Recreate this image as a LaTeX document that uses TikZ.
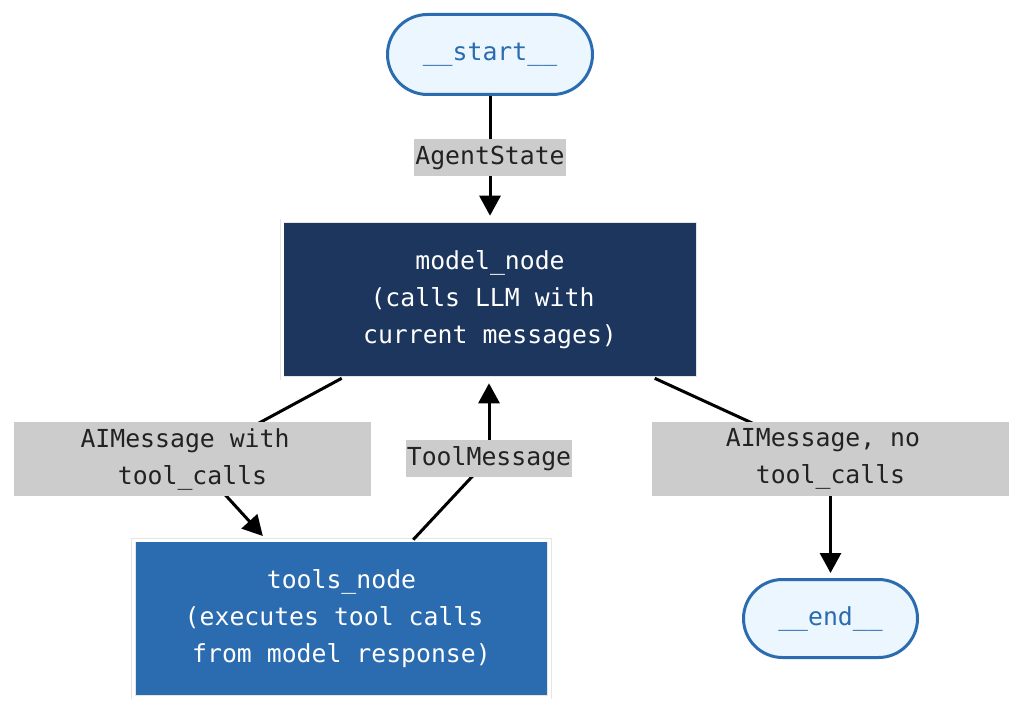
\documentclass[tikz,border=0pt]{standalone}
\usepackage{fontspec}
\setmonofont{DejaVu Sans Mono}
\usetikzlibrary{shapes.misc,arrows.meta,calc}
\definecolor{navy}{HTML}{1C365E}
\definecolor{midblue}{HTML}{2B6BAF}
\definecolor{pillfill}{HTML}{EBF6FE}
\definecolor{lblgray}{HTML}{CCCCCC}
\definecolor{txtdark}{HTML}{222222}
\begin{document}
\begin{tikzpicture}[x=1pt,y=-1pt,
  every node/.style={font=\ttfamily\fontsize{24.8}{37}\selectfont},
  pill/.style={rounded rectangle, draw=midblue, line width=3pt, fill=pillfill, text=midblue, inner sep=0pt},
  box/.style={rectangle, draw=black!10, double=white, double distance=3pt, line width=0.6pt, text=white, align=center, minimum width=416pt, minimum height=157pt, inner sep=0pt},
  lbl/.style={fill=lblgray, text=txtdark, inner xsep=1pt, inner ysep=0pt, align=center, minimum height=37pt},
  lbltwo/.style={lbl, minimum width=357pt, minimum height=74pt},
  edge/.style={line width=3pt, draw=black},
  arr/.style={edge, -{Triangle[length=20pt,width=21pt]}, shorten >=5pt}]
\useasboundingbox (0,0) rectangle (1024,711);
% main nodes
\node[pill, minimum width=205pt, minimum height=80pt] (start) at (490,54.5) {\_\_start\_\_};
\node[box, fill=navy] (model) at (490,299.5) {model\_node\\(calls LLM with\hphantom{x}\\current messages)};
\node[box, fill=midblue] (tools) at (341.5,618.5) {tools\_node\\(executes tool calls\hphantom{x}\\from model response)};
\node[pill, minimum width=174pt, minimum height=78pt] (end) at (830.5,618.5) {\_\_end\_\_};
% label positions
\coordinate (c0) at (490,158);
\coordinate (c1) at (192.5,459);
\coordinate (c2) at (489,458.5);
\coordinate (c3) at (830.5,459);
% edges
\draw[arr] (start.south) -- (model.north);
\draw[edge] ($(model.south west)+(60,0)$) -- (c1);
\draw[arr] (c1) -- ($(tools.north west)+(133,0)$);
\draw[edge] ($(tools.north west)+(280,0)$) -- (c2);
\draw[arr] (c2) -- (c2 |- model.south);
\draw[edge] ($(model.south west)+(373,0)$) -- (c3);
\draw[arr] (c3) -- (end.north);
% labels
\node[lbl] (l0) at (c0) {AgentState};
\node[lbltwo] (l1) at (c1) {AIMessage with\hphantom{x}\\tool\_calls};
\node[lbl] (l2) at (c2) {ToolMessage};
\node[lbltwo] (l3) at (c3) {AIMessage, no\hphantom{x}\\tool\_calls};
\end{tikzpicture}
\end{document}
